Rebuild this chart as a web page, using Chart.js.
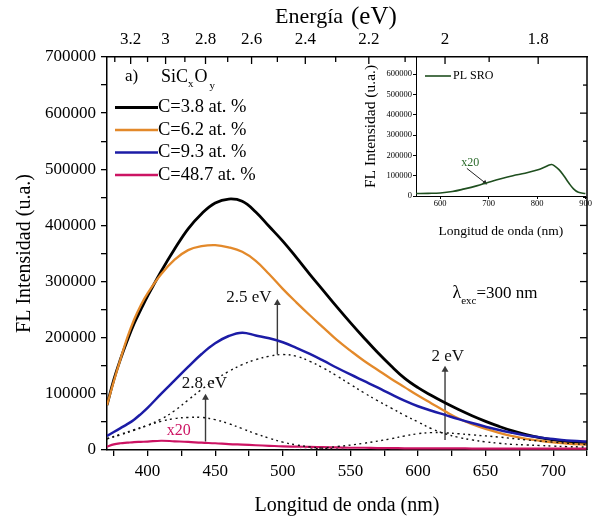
<!DOCTYPE html>
<html><head><meta charset="utf-8">
<script src="https://cdn.jsdelivr.net/npm/chart.js@4.4.1/dist/chart.umd.min.js"></script>
<style>
html,body{margin:0;padding:0;background:#fff;}
#wrap{position:relative;width:592px;height:518px;overflow:hidden;}
#main{position:absolute;left:0;top:0;}
#inset{position:absolute;left:340px;top:40px;}
</style></head>
<body><div id="wrap"><canvas id="main" width="592" height="518"></canvas><canvas id="inset" width="252" height="200"></canvas></div>
<script>
const FONT = "'Liberation Serif','Times New Roman',serif";

// ---- main data ----
const WL = [370,375,380,385,390,395,400,410,420,430,440,450,460,470,480,490,500,510,520,530,540,550,560,570,580,590,600,610,620,630,640,650,660,670,680,690,700,710,720,725];
const C38 = [80000,125000,162000,195000,225000,250000,274000,318000,358000,394000,421000,440000,447000,443000,424000,398000,372000,343000,313000,284000,255000,227000,200000,174000,150000,128000,111000,97000,84000,72000,61000,51000,42000,34000,27500,22000,18000,15000,13000,12000];
const C62 = [80000,122000,162000,200000,232000,258000,279000,313000,339000,356000,363000,365000,361000,353000,337000,313000,287000,263000,240000,218000,196000,177000,159000,143000,127000,112000,97000,83000,69000,56000,46000,37500,30500,24500,20000,16500,13500,11500,10000,9500];
const C93 = [25000,32000,39000,46000,54000,64000,75000,100000,124000,148000,171000,190000,203000,209000,204000,199000,192000,182000,171000,159000,146500,134500,123000,111500,99500,88000,78000,70000,62500,55000,48000,41500,35500,30500,26000,22500,19500,17000,15500,15000];
const C487 = [6000,10000,12000,13000,14000,14500,15000,16500,15500,14500,13000,12000,10500,9500,8500,7500,6500,6000,5500,5000,4500,4000,4000,3500,3500,3000,3000,3000,3000,3000,2500,2500,2500,2500,2500,2500,2500,2500,2500,2500];
const SERIES_NAMES = ['C=3.8 at. %','C=6.2 at. %','C=9.3 at. %','C=48.7 at. %'];
const SERIES_COLORS = ['#000000','#e3892a','#1c1ca6','#cc1463'];

// Gaussian components (dotted)
const G28_WL = [370,380,390,400,410,420,430,440,450,460,470,480,490,500,510,520,530,540,550];
const G28 = [20000,28000,36000,44000,51000,56000,58000,58000,54000,47000,38000,29000,21000,14000,9000,5500,3000,1500,500];
const G25_WL = [370,380,390,400,410,420,430,440,450,460,470,480,490,500,510,520,530,540,550,560,570,580,590,600,610,620,630,640,650,660,670,680,690,700,710,720,725];
const G25 = [20000,27000,35000,44000,55000,70000,89000,108000,125000,140000,152000,161000,167000,170000,167000,158000,146000,132000,117000,102000,88000,75000,62000,50000,38000,29000,22500,18000,14500,12000,10000,9000,8000,7000,6000,5500,5000];
const G20_WL = [500,520,540,560,580,590,600,610,620,630,640,660,680,700,725];
const G20 = [0,1500,6000,12000,20000,25000,29000,31000,30500,29000,27000,23000,18000,14000,9500];

// arrows (energy in eV -> wavelength 1240/E)
const ARROW_E = [2.8, 2.5, 2.0];
const ARROW_FROM = [15000, 170000, 18000];
const ARROW_TO = [93000, 262000, 143000];
const ARROW_LABELS = ['2.8 eV','2.5 eV','2 eV'];

// ticks
const X_TICKS = [375,400,425,450,475,500,525,550,575,600,625,650,675,700,725];
const Y_TICKS = [0,50000,100000,150000,200000,250000,300000,350000,400000,450000,500000,550000,600000,650000,700000];
const TOP_E_MAJOR = [3.2,3.0,2.8,2.6,2.4,2.2,2.0,1.8];
const TOP_E_MINOR = [3.3,3.1,2.9,2.7,2.5,2.3,2.1,1.9];

// ---- inset data ----
const SRO_WL = [550,575,600,625,650,675,700,725,750,775,800,815,825,830,835,845,855,865,875,885,900];
const SRO = [12000,13000,15000,22000,35000,50000,68000,85000,100000,112000,128000,142000,153000,155000,150000,130000,100000,65000,35000,18000,12000];
const INSET_X_TICKS = [600,700,800,900];
const INSET_Y_TICKS = [0,100000,200000,300000,400000,500000,600000];
const INSET_ARROW_X = [655, 692];
const INSET_ARROW_Y = [136000, 66000];

function pts(xs, ys){ return xs.map((x,i)=>({x:x, y:ys[i]})); }
function curve(xs, ys, color, w, label){
  return {label:label, data:pts(xs,ys), borderColor:color, borderWidth:w, pointRadius:0, tension:0.4, fill:false};
}
function dotted(xs, ys){
  return {data:pts(xs,ys), borderColor:'#111', borderWidth:1.4, borderDash:[2,3.5], pointRadius:0, tension:0.4, fill:false};
}
function arrow(i){
  const x = 1240/ARROW_E[i];
  return {data:[{x:x,y:ARROW_FROM[i]},{x:x,y:ARROW_TO[i]}], borderColor:'#3a3a3a', borderWidth:1.4, tension:0,
    pointRadius:[0,4], pointStyle:'triangle', pointBackgroundColor:'#3a3a3a', pointBorderColor:'#3a3a3a', pointBorderWidth:0, fill:false};
}

const mainOverlay = {
  id:'mainOverlay',
  afterDraw(chart){
    const {ctx, chartArea:a, scales:{x, y}} = chart;
    ctx.save();
    ctx.strokeStyle = '#000'; ctx.lineWidth = 1.5;
    ctx.beginPath(); ctx.moveTo(a.right, a.top); ctx.lineTo(a.right, a.bottom); ctx.stroke();
    ctx.lineWidth = 1.3;
    TOP_E_MAJOR.concat(TOP_E_MINOR).forEach(e=>{
      const px = x.getPixelForValue(1240/e);
      const len = TOP_E_MAJOR.includes(e) ? 7 : 5;
      ctx.beginPath(); ctx.moveTo(px, a.top); ctx.lineTo(px, a.top+len); ctx.stroke();
    });
    Y_TICKS.forEach(v=>{
      if (v===0 || v===700000) return;
      const py = y.getPixelForValue(v);
      ctx.beginPath(); ctx.moveTo(a.right, py); ctx.lineTo(a.right-(v%100000===0?7:4), py); ctx.stroke();
    });
    ctx.fillStyle = '#000'; ctx.textBaseline = 'alphabetic'; ctx.textAlign = 'left';
    ctx.font = '22px ' + FONT;
    const t1 = 'Energía'; const w1 = ctx.measureText(t1).width;
    const t2 = '(eV)';
    const startX = 275;
    ctx.fillText(t1, startX, 23);
    ctx.font = '25px ' + FONT; ctx.fillText(t2, startX + w1 + 8, 24);

    ctx.font = '17px ' + FONT; ctx.textAlign = 'center'; ctx.textBaseline = 'middle';
    ctx.fillStyle = '#111';
    ctx.fillText(ARROW_LABELS[0], x.getPixelForValue(442), y.getPixelForValue(119000));
    ctx.fillText(ARROW_LABELS[1], x.getPixelForValue(475), y.getPixelForValue(272000));
    ctx.fillText(ARROW_LABELS[2], x.getPixelForValue(622), y.getPixelForValue(167000));
    ctx.fillStyle = SERIES_COLORS[3]; ctx.font = '16px ' + FONT;
    ctx.fillText('x20', x.getPixelForValue(423), y.getPixelForValue(35000));
    ctx.fillStyle = '#000'; ctx.textAlign = 'left';
    let lx = x.getPixelForValue(625.5), ly = y.getPixelForValue(279000);
    ctx.font = '18px ' + FONT; ctx.fillText('λ', lx, ly);
    lx += ctx.measureText('λ').width;
    ctx.font = '11px ' + FONT; ctx.fillText('exc', lx, ly + 8);
    lx += ctx.measureText('exc').width;
    ctx.font = '17px ' + FONT; ctx.fillText('=300 nm', lx, ly);

    ctx.font = '17px ' + FONT; ctx.textBaseline = 'middle';
    ctx.fillText('a)', 125, 77);
    let sx = 161;
    ctx.font = '18px ' + FONT; ctx.fillText('SiC', sx, 77); sx += ctx.measureText('SiC').width;
    ctx.font = '11px ' + FONT; ctx.fillText('x', sx, 84); sx += ctx.measureText('x').width + 1;
    ctx.font = '18px ' + FONT; ctx.fillText('O', sx, 77); sx += ctx.measureText('O').width + 2;
    ctx.font = '11px ' + FONT; ctx.fillText('y', sx, 86);
    SERIES_NAMES.forEach((name,i)=>{
      const yy = 107.5 + i*22.5;
      ctx.strokeStyle = SERIES_COLORS[i]; ctx.lineWidth = i===0 ? 3 : 2.5;
      ctx.beginPath(); ctx.moveTo(115, yy); ctx.lineTo(158, yy); ctx.stroke();
      ctx.fillStyle = '#000'; ctx.font = '18.5px ' + FONT;
      ctx.fillText(name, 158, yy);
    });
    ctx.restore();
  }
};

const datasets = [
  dotted(G28_WL, G28), dotted(G25_WL, G25), dotted(G20_WL, G20),
  curve(WL, C487, SERIES_COLORS[3], 2.2, SERIES_NAMES[3]),
  curve(WL, C93, SERIES_COLORS[2], 2.5, SERIES_NAMES[2]),
  curve(WL, C62, SERIES_COLORS[1], 2.3, SERIES_NAMES[1]),
  curve(WL, C38, SERIES_COLORS[0], 2.8, SERIES_NAMES[0]),
  arrow(0), arrow(1), arrow(2)
];

new Chart(document.getElementById('main'), {
  type:'line',
  data:{datasets:datasets},
  options:{
    responsive:false, animation:false, devicePixelRatio:1,
    layout:{padding:{left:0, right:2, top:0, bottom:0}},
    plugins:{legend:{display:false}, tooltip:{enabled:false}},
    scales:{
      x:{type:'linear', position:'bottom', min:370, max:725,
        afterFit:s=>{s.height=68;},
        afterBuildTicks:s=>{s.ticks = X_TICKS.map(v=>({value:v}));},
        ticks:{autoSkip:false, maxRotation:0, padding:5, color:'#000', font:{family:FONT,size:17},
          callback:v=> (v%50===0 ? String(v) : '')},
        grid:{drawOnChartArea:false, drawTicks:true, tickLength:6, color:'#000', lineWidth:1.3},
        border:{display:true, color:'#000', width:1.5},
        title:{display:true, text:'Longitud de onda (nm)', color:'#000', font:{family:FONT,size:20}, padding:{top:6,bottom:0}}
      },
      xTop:{type:'linear', position:'top', min:370, max:725,
        afterFit:s=>{s.height=57;},
        afterBuildTicks:s=>{s.ticks = TOP_E_MAJOR.map(e=>({value:1240/e}));},
        ticks:{autoSkip:false, maxRotation:0, padding:7, color:'#000', font:{family:FONT,size:17},
          callback:v=> String(Math.round(1240/v*10)/10)},
        grid:{drawOnChartArea:false, drawTicks:false},
        border:{display:true, color:'#000', width:1.5}
      },
      y:{type:'linear', position:'left', min:0, max:700000,
        afterFit:s=>{s.width=107;},
        afterBuildTicks:s=>{s.ticks = Y_TICKS.map(v=>({value:v}));},
        ticks:{autoSkip:false, padding:5, color:'#000', font:{family:FONT,size:17},
          callback:v=> (v%100000===0 ? String(v) : '')},
        grid:{drawOnChartArea:false, drawTicks:true, tickLength:6, color:'#000', lineWidth:1.3},
        border:{display:true, color:'#000', width:1.5},
        title:{display:true, text:'FL Intensidad (u.a.)', color:'#000', font:{family:FONT,size:20}, padding:{top:13,bottom:0}}
      }
    }
  },
  plugins:[mainOverlay]
});

const insetOverlay = {
  id:'insetOverlay',
  afterDraw(chart){
    const {ctx, scales:{x,y}} = chart;
    ctx.save();
    const ly = 36;
    ctx.strokeStyle = '#1f4f1f'; ctx.lineWidth = 1.6;
    ctx.beginPath(); ctx.moveTo(85, ly); ctx.lineTo(111, ly); ctx.stroke();
    ctx.fillStyle = '#000'; ctx.font = '12px ' + FONT; ctx.textBaseline = 'middle'; ctx.textAlign='left';
    ctx.fillText('PL SRO', 113, ly);
    ctx.fillStyle = '#2a6a2a'; ctx.font = '12px ' + FONT; ctx.textAlign='center';
    ctx.fillText('x20', x.getPixelForValue(662), y.getPixelForValue(165000));
    ctx.restore();
  }
};

new Chart(document.getElementById('inset'), {
  type:'line',
  data:{datasets:[
    {data:pts(SRO_WL, SRO), borderColor:'#1f4f1f', borderWidth:1.6, pointRadius:0, tension:0.4, fill:false},
    {data:pts(INSET_ARROW_X, INSET_ARROW_Y), borderColor:'#222', borderWidth:1, tension:0, pointRadius:[0,3], pointStyle:'triangle', rotation:128, pointBackgroundColor:'#222', pointBorderWidth:0, fill:false}
  ]},
  options:{
    responsive:false, animation:false, devicePixelRatio:1,
    layout:{padding:{left:0, right:2, top:17, bottom:0}},
    plugins:{legend:{display:false}, tooltip:{enabled:false}},
    scales:{
      x:{type:'linear', min:550, max:900,
        afterFit:s=>{s.height=44;},
        afterBuildTicks:s=>{s.ticks = INSET_X_TICKS.map(v=>({value:v}));},
        ticks:{autoSkip:false, maxRotation:0, padding:0, color:'#000', font:{family:FONT,size:8.5}, callback:v=>String(v)},
        grid:{drawOnChartArea:false, tickLength:3, color:'#000', lineWidth:1},
        border:{display:true, color:'#000', width:1},
        title:{display:true, text:'Longitud de onda (nm)', color:'#000', font:{family:FONT,size:13.5}, padding:{top:3,bottom:0}}
      },
      y:{type:'linear', min:0, max:685000,
        afterFit:s=>{s.width=76;},
        afterBuildTicks:s=>{s.ticks = INSET_Y_TICKS.map(v=>({value:v}));},
        ticks:{autoSkip:false, padding:1, color:'#000', font:{family:FONT,size:8.5}, callback:v=>String(v)},
        grid:{drawOnChartArea:false, tickLength:3, color:'#000', lineWidth:1},
        border:{display:true, color:'#000', width:1},
        title:{display:true, text:'FL Intensidad (u.a.)', color:'#000', font:{family:FONT,size:15.5}, padding:{top:22,bottom:0}}
      }
    }
  },
  plugins:[insetOverlay]
});
</script></body></html>
